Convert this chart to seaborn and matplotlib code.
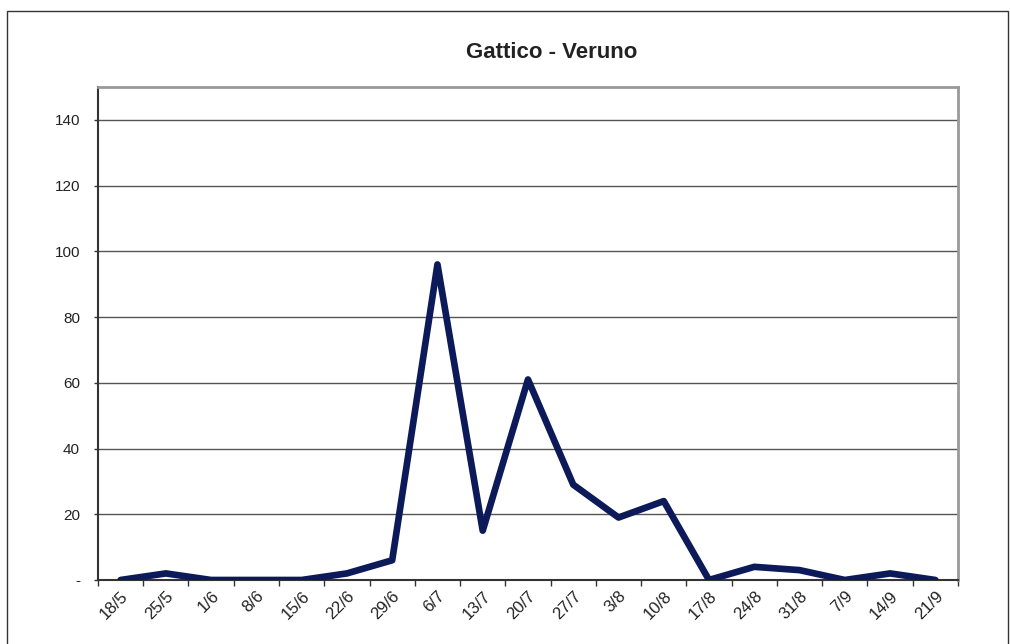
import matplotlib
matplotlib.use("Agg")
import matplotlib.pyplot as plt
from matplotlib.patches import Rectangle
import seaborn as sns
import pandas as pd
import numpy as np

# weekly values
dates = ["18/5", "25/5", "1/6", "8/6", "15/6", "22/6", "29/6", "6/7", "13/7", "20/7",
         "27/7", "3/8", "10/8", "17/8", "24/8", "31/8", "7/9", "14/9", "21/9"]
counts = [0, 2, 0, 0, 0, 2, 6, 96, 15, 61, 29, 19, 24, 0, 4, 3, 0, 2, 0]
y_ticks = [0, 20, 40, 60, 80, 100, 120, 140]
y_labels = ["-", "20", "40", "60", "80", "100", "120", "140"]

df = pd.DataFrame({"pos": np.arange(len(dates)), "count": counts})

sns.set_style("white")
plt.rcParams["font.family"] = ["Liberation Sans", "DejaVu Sans"]

fig = plt.figure(figsize=(10.1, 6.44), dpi=100)
ax = fig.add_axes([0.097, 0.0994, 0.8515, 0.7656])

# outer chart frame
fig.patches.append(Rectangle((0.007, -0.05), 0.991, 1.033, transform=fig.transFigure,
                             fill=False, edgecolor="#333333", linewidth=1.0))

for t in y_ticks[1:]:
    ax.axhline(t, color="#555555", linewidth=1.0, zorder=1)

sns.lineplot(data=df, x="pos", y="count", ax=ax, color="#0c1a5a", linewidth=4.8,
             solid_capstyle="round", solid_joinstyle="round", zorder=3)

ax.set_xlim(-0.5, len(dates) - 0.5)
ax.set_ylim(0, 150)
ax.set_yticks(y_ticks)
ax.set_yticklabels(y_labels, fontsize=11, color="#222222")
ax.set_xticks(np.arange(len(dates)))
ax.set_xticklabels(dates, rotation=45, ha="right", rotation_mode="anchor",
                   fontsize=12, color="#222222")
ax.set_xticks(np.arange(len(dates) + 1) - 0.5, minor=True)
ax.tick_params(axis="x", which="major", bottom=True, length=0, pad=6)
ax.tick_params(axis="x", which="minor", bottom=True, length=4, width=1,
               color="#333333", direction="out")
ax.tick_params(axis="y", left=True, length=3, width=1, color="#333333",
               direction="out", pad=10)
ax.set_xlabel("")
ax.set_ylabel("")

for side in ["left", "bottom"]:
    ax.spines[side].set_color("#333333")
    ax.spines[side].set_linewidth(1.5)
for side in ["top", "right"]:
    ax.spines[side].set_color("#999999")
    ax.spines[side].set_linewidth(2)
    ax.spines[side].set_visible(True)

fig.text(0.5465, 0.919, "Gattico - Veruno", ha="center", va="center",
         fontsize=16, fontweight="bold", color="#222222")

fig.savefig("out.png", dpi=100)
